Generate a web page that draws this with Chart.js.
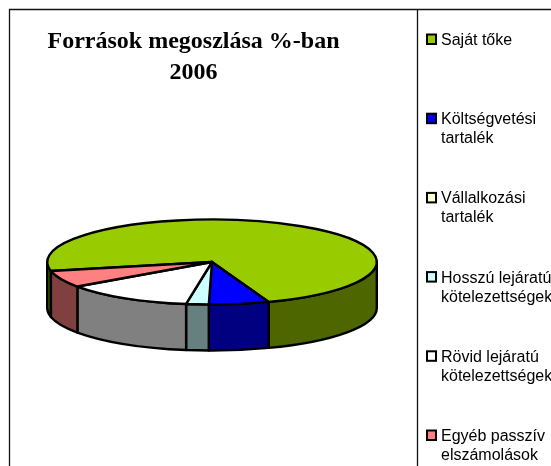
<!DOCTYPE html>
<html><head><meta charset="utf-8">
<style>html,body{margin:0;padding:0;background:#fff;overflow:hidden}#w{position:relative;width:551px;height:466px}</style>
<script src="https://cdn.jsdelivr.net/npm/chart.js@4"></script>
</head><body><div id="w"><canvas id="c" width="551" height="466"></canvas></div>
<script>
const titleLines = ['Források megoszlása %-ban', '2006'];
const categories = ['Saját tőke', 'Költségvetési tartalék', 'Vállalkozási tartalék', 'Hosszú lejáratú kötelezettségek', 'Rövid lejáratú kötelezettségek', 'Egyéb passzív elszámolások'];
const legendLines = [['Saját tőke'], ['Költségvetési', 'tartalék'], ['Vállalkozási', 'tartalék'], ['Hosszú lejáratú', 'kötelezettségek'], ['Rövid lejáratú', 'kötelezettségek'], ['Egyéb passzív', 'elszámolások']];
const shares = [72.8, 5.9, 0, 2.2, 12.7, 6.4];
const topColors = ['#99CC00', '#0000FF', '#FFFFCC', '#CCFFFF', '#FFFFFF', '#FF8080'];
const sideColors = ['#4D6600', '#000080', '#808066', '#668080', '#808080', '#804040'];

const squash = 0.258, depth = 46;

const framePlugin = {
  id: 'frame',
  beforeDraw(chart) {
    const c = chart.ctx;
    c.save();
    c.fillStyle = '#fff';
    c.fillRect(0, 0, chart.width, chart.height);
    c.strokeStyle = '#111';
    c.lineWidth = 1.3;
    c.beginPath();
    c.moveTo(9.5, 466); c.lineTo(9.5, 9.5); c.lineTo(551, 9.5);
    c.moveTo(417.5, 9.5); c.lineTo(417.5, 466);
    c.stroke();
    c.restore();
  },
  afterLayout(chart) {
    chart.titleBlock.left = 13;
    chart.titleBlock.right = 374;
  }
};

const pie3d = {
  id: 'pie3d',
  beforeDatasetDraw(chart, args) {
    const c = chart.ctx, arcs = args.meta.data;
    const tau = Math.PI * 2;
    c.save();
    c.lineJoin = 'round';
    arcs.forEach((arc, i) => {
      const p = arc.getProps(['x', 'y', 'startAngle', 'endAngle', 'outerRadius']);
      if (p.endAngle - p.startAngle < 1e-6) return;
      const rx = p.outerRadius, ry = rx * squash;
      c.strokeStyle = arc.options.borderColor;
      c.lineWidth = arc.options.borderWidth;
      [0, tau].forEach(off => {
        const a0 = Math.max(p.startAngle, off), a1 = Math.min(p.endAngle, off + Math.PI);
        if (a1 <= a0) return;
        c.beginPath();
        c.ellipse(p.x, p.y, rx, ry, 0, a0, a1);
        c.ellipse(p.x, p.y + depth, rx, ry, 0, a1, a0, true);
        c.closePath();
        c.fillStyle = sideColors[i];
        c.fill();
        c.stroke();
      });
    });
    arcs.forEach(arc => {
      const p = arc.getProps(['x', 'y', 'startAngle', 'endAngle', 'outerRadius']);
      if (p.endAngle - p.startAngle < 1e-6) return;
      const rx = p.outerRadius, ry = rx * squash;
      c.beginPath();
      c.moveTo(p.x, p.y);
      c.ellipse(p.x, p.y, rx, ry, 0, p.startAngle, p.endAngle);
      c.closePath();
      c.fillStyle = arc.options.backgroundColor;
      c.strokeStyle = arc.options.borderColor;
      c.lineWidth = arc.options.borderWidth;
      c.fill();
      c.stroke();
    });
    c.restore();
    return false;
  }
};

const sideLegend = {
  id: 'sideLegend',
  afterDraw(chart) {
    const c = chart.ctx;
    c.save();
    c.font = '16px "Liberation Sans", Arial, sans-serif';
    c.textBaseline = 'middle';
    c.textAlign = 'left';
    legendLines.forEach((lines, i) => {
      const y = 39.5 + i * 79.2;
      c.fillStyle = topColors[i];
      c.strokeStyle = '#000';
      c.lineWidth = 2;
      c.fillRect(427, y - 5, 9, 9.5);
      c.strokeRect(427, y - 5, 9, 9.5);
      c.fillStyle = '#000';
      lines.forEach((t, j) => c.fillText(t, 441, y + 1 + j * 19));
    });
    c.restore();
  }
};

new Chart(document.getElementById('c'), {
  type: 'pie',
  data: {
    labels: categories,
    datasets: [{ data: shares, backgroundColor: topColors, borderColor: '#000', borderWidth: 2.4 }]
  },
  plugins: [framePlugin, pie3d, sideLegend],
  options: {
    responsive: false,
    animation: false,
    rotation: 257.8,
    layout: { padding: { left: 46, right: 173, top: 26, bottom: 38 } },
    plugins: {
      legend: { display: false },
      tooltip: { enabled: false },
      title: {
        display: true,
        text: titleLines,
        color: '#000',
        font: { family: '"Liberation Serif", "Times New Roman", serif', size: 24, weight: 'bold', lineHeight: 1.3 },
        padding: { top: 0, bottom: 7.6 }
      }
    }
  }
});
</script></body></html>
